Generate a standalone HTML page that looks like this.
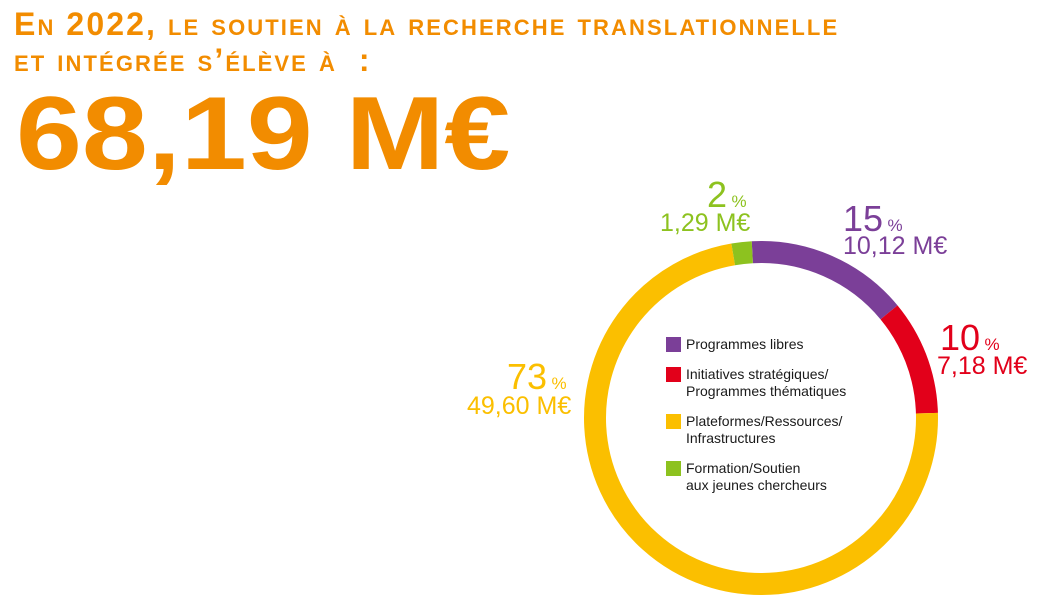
<!DOCTYPE html>
<html><head><meta charset="utf-8"><style>
body{margin:0;width:1043px;height:608px;background:#fff;position:relative;overflow:hidden;font-family:"Liberation Sans",sans-serif}
.t{position:absolute;color:#f28c00;font-weight:bold;font-variant:small-caps;white-space:nowrap}
.big{position:absolute;left:16px;top:82px;color:#f28c00;font-weight:bold;font-size:104px;letter-spacing:0;white-space:nowrap;line-height:1;transform:scaleX(1.14);transform-origin:0 0}
.l{position:absolute;white-space:nowrap;line-height:1}
.n{font-size:36px}.p{font-size:17px}.m{font-size:25px}
.lg{position:absolute;left:666px;font-size:14px;color:#1a1a1a;line-height:16.5px}
.lg i{position:absolute;left:0;top:1px;width:15px;height:15px}
.lg span{position:absolute;left:20px;top:0;white-space:nowrap}
</style></head><body>
<div class="t" style="left:14px;top:6px;font-size:32px;letter-spacing:2.1px">En 2022, le soutien à la recherche translationnelle</div>
<div class="t" style="left:14px;top:42px;font-size:32px;letter-spacing:2.1px">et intégrée s’élève à &nbsp;:</div>
<div class="big">68,19 M€</div>
<svg width="1043" height="608" style="position:absolute;left:0;top:0">
<g transform="translate(761 418) rotate(-93)">
<circle r="166" fill="none" stroke="#7b3f98" stroke-width="22" stroke-dasharray="154.8 2000" />
<circle r="166" fill="none" stroke="#e2001a" stroke-width="22" stroke-dasharray="0 154.8 109.8 2000"/>
<circle r="166" fill="none" stroke="#fbbf00" stroke-width="22" stroke-dasharray="0 264.6 758.7 2000"/>
<circle r="166" fill="none" stroke="#8dc21f" stroke-width="22" stroke-dasharray="0 1023.3 19.7 2000"/>
</g></svg>
<div class="l" style="left:707px;top:177px;color:#8dc21f"><span class="n">2</span> <span class="p">%</span></div>
<div class="l m" style="left:660px;top:211px;color:#8dc21f">1,29 M€</div>
<div class="l" style="left:843px;top:201px;color:#7b3f98"><span class="n">15</span> <span class="p">%</span></div>
<div class="l m" style="left:843px;top:234px;color:#7b3f98">10,12 M€</div>
<div class="l" style="left:940px;top:320px;color:#e2001a"><span class="n">10</span> <span class="p">%</span></div>
<div class="l m" style="left:937px;top:354px;color:#e2001a">7,18 M€</div>
<div class="l" style="left:507px;top:359px;color:#fbbf00"><span class="n">73</span> <span class="p">%</span></div>
<div class="l m" style="left:467px;top:394px;color:#fbbf00">49,60 M€</div>
<div class="lg" style="top:336px"><i style="background:#7b3f98"></i><span>Programmes libres</span></div>
<div class="lg" style="top:366px"><i style="background:#e2001a"></i><span>Initiatives stratégiques/<br>Programmes thématiques</span></div>
<div class="lg" style="top:413px"><i style="background:#fbbf00"></i><span>Plateformes/Ressources/<br>Infrastructures</span></div>
<div class="lg" style="top:460px"><i style="background:#8dc21f"></i><span>Formation/Soutien<br>aux jeunes chercheurs</span></div>
</body></html>
